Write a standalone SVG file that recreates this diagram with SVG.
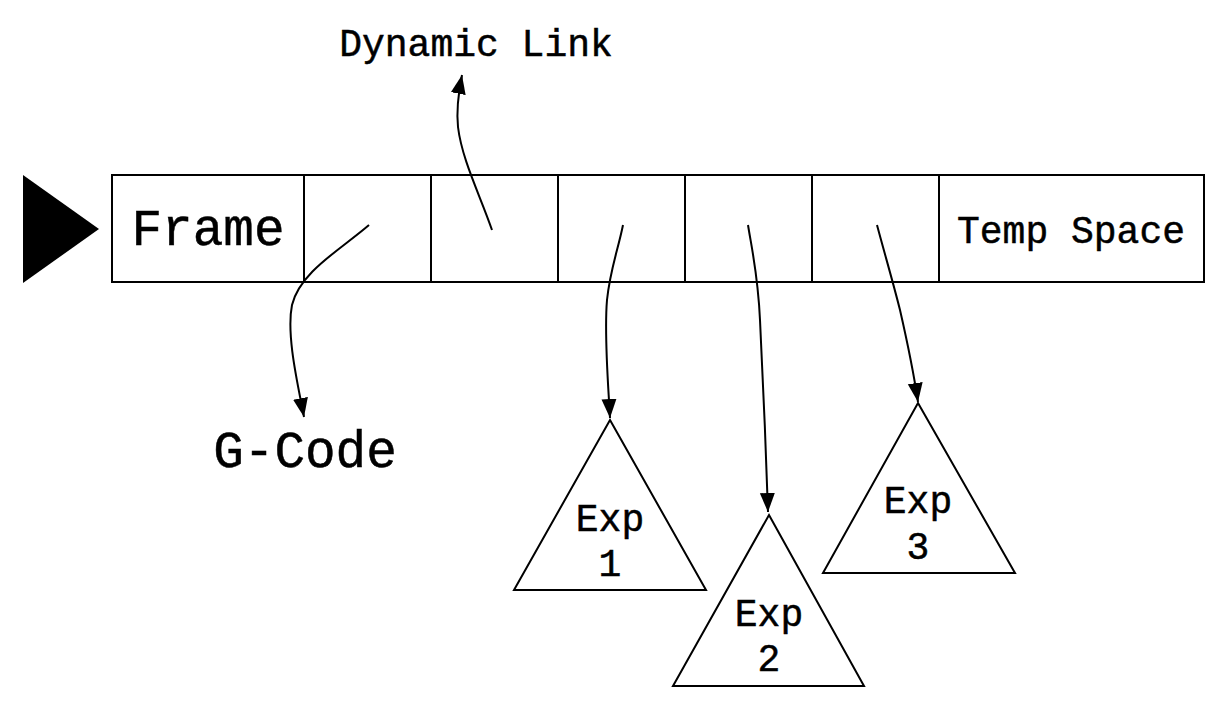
<svg xmlns="http://www.w3.org/2000/svg" width="1227" height="704" viewBox="0 0 1227 704">
<style>
.cell{fill:#fff;stroke:#000;stroke-width:2}
.tri{fill:#fff;stroke:#000;stroke-width:2;stroke-linejoin:miter}
.t{font-family:"Liberation Mono","Courier New",monospace;fill:#000;stroke:#000;stroke-width:0.5;text-anchor:middle}
.s{font-size:38px}
.l{font-size:51px}
.c{fill:none;stroke:#000;stroke-width:2}
</style>
<defs>
<marker id="ah" markerUnits="userSpaceOnUse" markerWidth="22" markerHeight="16" refX="19" refY="7.5" orient="auto">
<path d="M0,0 L19,7.5 L0,15 z" fill="#000"/>
</marker>
</defs>
<rect width="1227" height="704" fill="#fff"/>
<polygon id="entry" points="23,175 99,229 23,283" fill="#000"/>
<g id="frame-record">
<g id="cell-frame"><rect class="cell" x="112" y="175" width="192" height="107"/><text class="t l" x="208" y="245">Frame</text></g>
<g id="cell-gcode"><rect class="cell" x="304" y="175" width="127" height="107"/></g>
<g id="cell-dynlink"><rect class="cell" x="431" y="175" width="127" height="107"/></g>
<g id="cell-exp1"><rect class="cell" x="558" y="175" width="127" height="107"/></g>
<g id="cell-exp2"><rect class="cell" x="685" y="175" width="127" height="107"/></g>
<g id="cell-exp3"><rect class="cell" x="812" y="175" width="127" height="107"/></g>
<g id="cell-temp"><rect class="cell" x="939" y="175" width="265" height="107"/><text class="t s" x="1071" y="243">Temp Space</text></g>
</g>
<g id="dynamic-link"><text class="t s" x="476" y="56">Dynamic Link</text></g>
<g id="gcode"><text class="t l" x="305" y="467">G-Code</text></g>
<g id="exp1"><polygon class="tri" points="610,420 706,590 514,590"/><text class="t s" x="610" y="531">Exp</text><text class="t s" x="610" y="576">1</text></g>
<g id="exp2"><polygon class="tri" points="769,515 864,686 673,686"/><text class="t s" x="769" y="626">Exp</text><text class="t s" x="769" y="671">2</text></g>
<g id="exp3"><polygon class="tri" points="918,403 1015,573 823,573"/><text class="t s" x="918" y="513">Exp</text><text class="t s" x="918" y="559">3</text></g>
<g id="connectors">
<path class="c" marker-end="url(#ah)" d="M492,230 C480,195 462,160 458,127 C456,108 459,90 462,75"/>
<path class="c" marker-end="url(#ah)" d="M369,225 C340,250 300,272 292,305 C286,335 298,385 304,417"/>
<path class="c" marker-end="url(#ah)" d="M623,225 C618,250 610,270 607,300 C604,335 608,380 610,418"/>
<path class="c" marker-end="url(#ah)" d="M748,225 C752,250 758,275 760,320 C763,380 766,450 768,512"/>
<path class="c" marker-end="url(#ah)" d="M877,225 C885,255 893,282 900,310 C908,345 914,375 918,402"/>
</g>
</svg>
